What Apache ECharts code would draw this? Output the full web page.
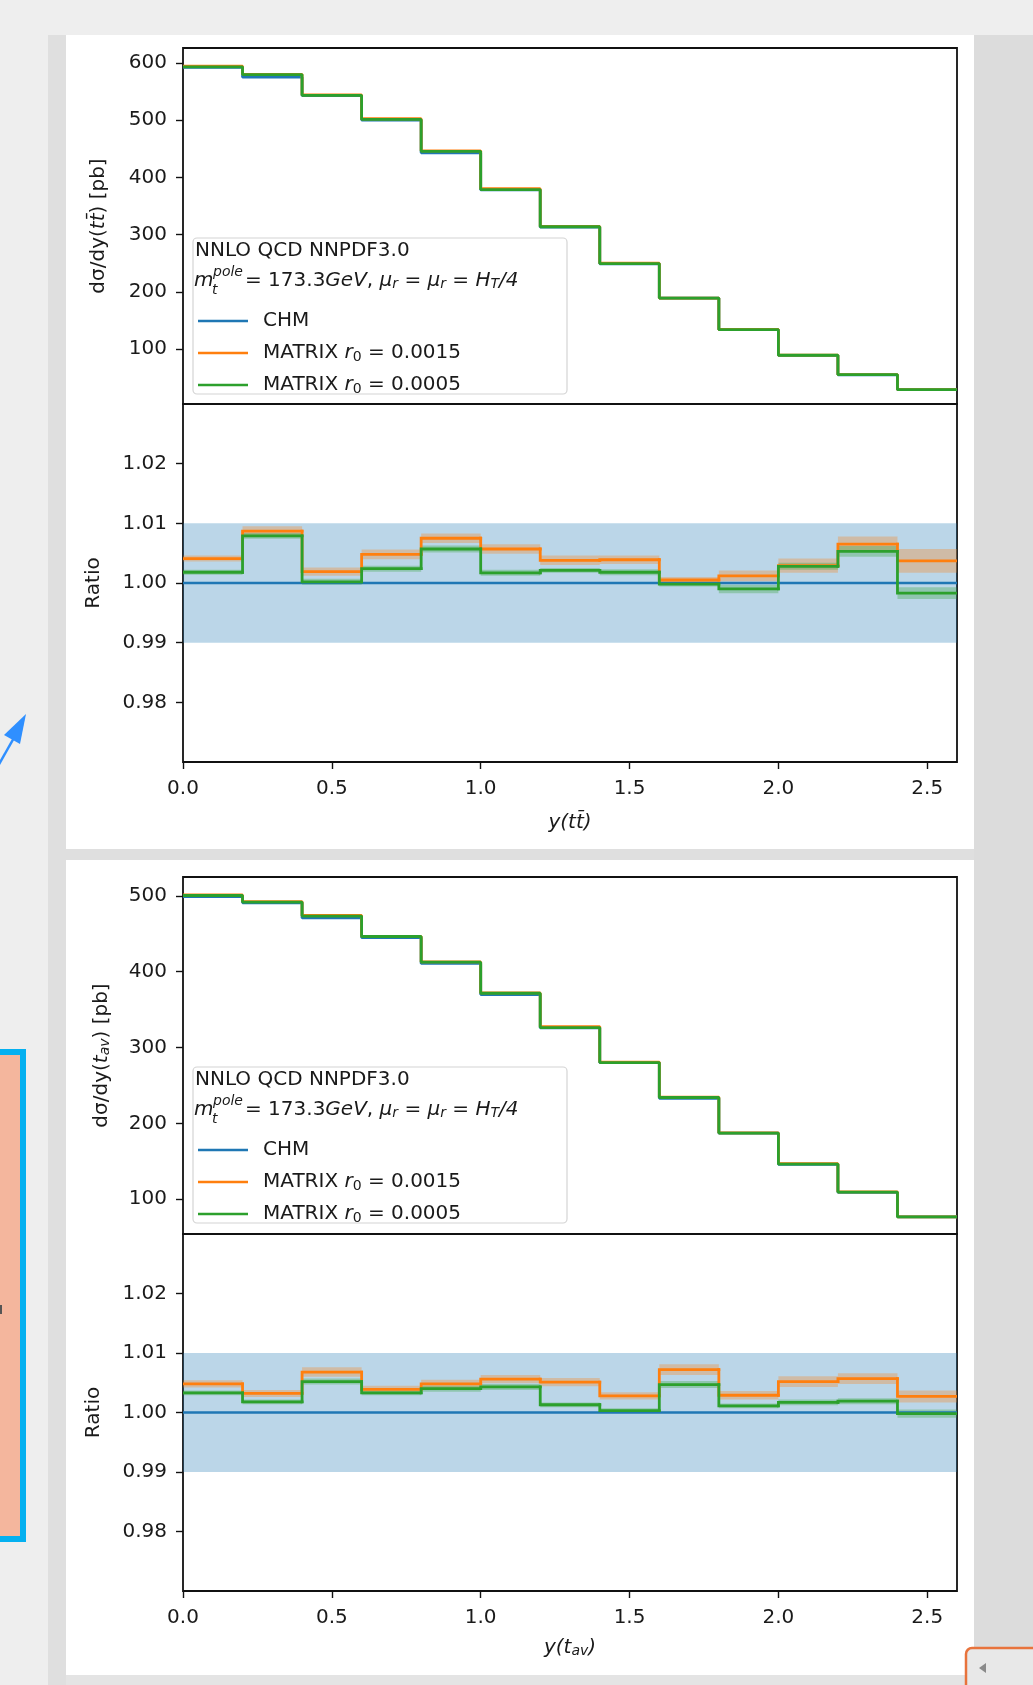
<!DOCTYPE html>
<html>
<head>
<meta charset="utf-8">
<title>CHM vs MATRIX rapidity distributions</title>
<script src="https://cdn.jsdelivr.net/npm/echarts@6/dist/echarts.min.js"></script>
<style>
  html, body { margin: 0; padding: 0; background: #eeeeee; }
  #chart { width: 1033px; height: 1685px; }
</style>
</head>
<body>
<div id="chart"></div>
<script>
// bin edges in rapidity (13 bins of 0.2)
var edges = [0, 0.2, 0.4, 0.6, 0.8, 1.0, 1.2, 1.4, 1.6, 1.8, 2.0, 2.2, 2.4, 2.6];

// y(t tbar) panel
var chmTT = [592, 575, 543, 500, 443, 378, 313, 249, 189, 134, 89, 55, 29];
var m15TT = [594.4, 580.0, 544.0, 502.4, 446.3, 380.2, 314.2, 250.0, 189.1, 134.2, 89.3, 55.4, 29.1];
var m05TT = [593.1, 579.5, 543.1, 501.2, 445.5, 378.6, 313.7, 249.4, 189.0, 133.9, 89.2, 55.3, 29.0];
var r15TT = [1.0041, 1.0087, 1.0019, 1.0048, 1.0075, 1.0057, 1.0038, 1.0039, 1.0005, 1.0012, 1.0029, 1.0065, 1.0037];
var e15TT = [0.0005, 0.0008, 0.0007, 0.0008, 0.0008, 0.0008, 0.0008, 0.0007, 0.0005, 0.0009, 0.0012, 0.0013, 0.0020];
var r05TT = [1.0018, 1.0079, 1.0002, 1.0024, 1.0057, 1.0017, 1.0021, 1.0018, 0.9998, 0.9990, 1.0028, 1.0053, 0.9983];
var e05TT = [0.0004, 0.0005, 0.0005, 0.0005, 0.0006, 0.0005, 0.0004, 0.0005, 0.0004, 0.0007, 0.0006, 0.0009, 0.0010];

// y(t_av) panel
var chmAV = [499, 491, 471, 445, 411, 370, 326, 280, 233, 187, 146, 109, 76.5];
var m15AV = [501.4, 492.6, 474.2, 446.7, 413.0, 372.1, 327.7, 280.8, 234.7, 187.5, 146.8, 109.6, 76.7];
var m05AV = [500.6, 491.9, 473.4, 446.5, 412.6, 371.6, 326.4, 280.1, 234.1, 187.2, 146.2, 109.2, 76.5];
var r15AV = [1.0048, 1.0032, 1.0068, 1.0039, 1.0048, 1.0056, 1.0051, 1.0028, 1.0072, 1.0029, 1.0052, 1.0057, 1.0027];
var e15AV = [0.0006, 0.0006, 0.0008, 0.0006, 0.0007, 0.0007, 0.0007, 0.0006, 0.0009, 0.0007, 0.0009, 0.0009, 0.0010];
var r05AV = [1.0033, 1.0018, 1.0052, 1.0033, 1.0040, 1.0043, 1.0013, 1.0003, 1.0047, 1.0011, 1.0017, 1.0019, 0.9998];
var e05AV = [0.0004, 0.0004, 0.0005, 0.0004, 0.0005, 0.0005, 0.0004, 0.0004, 0.0006, 0.0004, 0.0005, 0.0005, 0.0007];

// CHM reference in ratio panels and its +-1% band
var chmRatio = [1, 1, 1, 1, 1, 1, 1, 1, 1, 1, 1, 1, 1];
var chmBand = [0.99, 1.01];

// ticks
var xTicks = [0, 0.5, 1.0, 1.5, 2.0, 2.5];
var yTicksTT = [100, 200, 300, 400, 500, 600];
var yTicksAV = [100, 200, 300, 400, 500];
var ratioTicks = [0.98, 0.99, 1.00, 1.01, 1.02];

var names = ['CHM', 'MATRIX 0.0015', 'MATRIX 0.0005'];
var legendText = {
  'CHM': '{g| }CHM',
  'MATRIX 0.0015': '{g| }MATRIX {i|r}{d|0} = 0.0015',
  'MATRIX 0.0005': '{g| }MATRIX {i|r}{d|0} = 0.0005'
};

var BLUE = '#1f77b4', ORANGE = '#ff7f0e', GREEN = '#2ca02c';
var FONT = 'DejaVu Sans';
var FS = 20;
var TXT = '#1a1a1a';

var chart = echarts.init(document.getElementById('chart'), null, { renderer: 'canvas' });

var richBase = {
  t: { fontFamily: FONT, fontSize: FS, color: TXT },
  i: { fontFamily: FONT, fontSize: FS, fontStyle: 'italic', color: TXT },
  s: { fontFamily: FONT, fontSize: 14, fontStyle: 'italic', color: TXT, verticalAlign: 'bottom', lineHeight: 14 },
  d: { fontFamily: FONT, fontSize: 14, color: TXT, verticalAlign: 'bottom', lineHeight: 14 },
  g: { width: 10 }
};

function stepLine(ax, vals, name, color, width, z) {
  return {
    type: 'line', name: name, xAxisIndex: ax, yAxisIndex: ax,
    step: 'end', showSymbol: false, symbol: 'none', silent: true, z: z,
    data: edges.map(function (x, i) { return [x, vals[Math.min(i, vals.length - 1)]]; }),
    lineStyle: { color: color, width: width },
    itemStyle: { color: color }
  };
}

// histogram drawn bin by bin so that small steps are kept
function stepBins(ax, vals, name, color, width, z) {
  return {
    type: 'custom', name: name, xAxisIndex: ax, yAxisIndex: ax, silent: true, z: z, clip: true,
    encode: { x: [0, 1], y: [2, 3] },
    itemStyle: { color: color },
    data: vals.map(function (v, i) { return [edges[i], edges[i + 1], v, i > 0 ? vals[i - 1] : v]; }),
    renderItem: function (params, api) {
      var a = api.coord([api.value(0), api.value(3)]);
      var b = api.coord([api.value(0), api.value(2)]);
      var c = api.coord([api.value(1), api.value(2)]);
      return { type: 'polyline', shape: { points: [a, b, c] },
               style: { stroke: color, lineWidth: width, fill: null, lineCap: 'square', lineJoin: 'miter' } };
    }
  };
}

function bandSeries(ax, center, err, color) {
  return {
    type: 'custom', xAxisIndex: ax, yAxisIndex: ax, silent: true, z: 1,
    encode: { x: [0, 1], y: [2, 3] },
    data: center.map(function (v, i) { return [edges[i], edges[i + 1], v - err[i], v + err[i]]; }),
    renderItem: function (params, api) {
      var a = api.coord([api.value(0), api.value(3)]);
      var b = api.coord([api.value(1), api.value(2)]);
      return { type: 'rect', shape: { x: a[0], y: a[1], width: b[0] - a[0], height: b[1] - a[1] },
               style: { fill: color } };
    }
  };
}

function chmBandSeries(ax) {
  return {
    type: 'custom', xAxisIndex: ax, yAxisIndex: ax, silent: true, z: 1,
    encode: { x: [0, 1], y: [2, 3] },
    data: [[edges[0], edges[edges.length - 1], chmBand[0], chmBand[1]]],
    renderItem: function (params, api) {
      var a = api.coord([api.value(0), api.value(3)]);
      var b = api.coord([api.value(1), api.value(2)]);
      return { type: 'rect', shape: { x: a[0], y: a[1], width: b[0] - a[0], height: b[1] - a[1] },
               style: { fill: 'rgba(31,119,180,0.3)' } };
    }
  };
}

function xAxisFor(idx, showLabels, name, gap) {
  return {
    type: 'value', gridIndex: idx, min: 0, max: 2.6,
    axisLine: { show: false },
    splitLine: { show: false },
    axisTick: { show: showLabels, length: 7, customValues: xTicks, lineStyle: { color: '#111', width: 1.4 } },
    axisLabel: { show: showLabels, customValues: xTicks, margin: 17, fontFamily: FONT, fontSize: FS, color: TXT,
                 formatter: function (v) { return v.toFixed(1); } },
    name: name || '', nameLocation: 'middle', nameGap: gap || 47,
    nameTextStyle: { rich: richBase, fontFamily: FONT, fontSize: FS, color: TXT }
  };
}

function yAxisFor(idx, min, max, ticks, digits, name, gap) {
  return {
    type: 'value', gridIndex: idx, min: min, max: max,
    axisLine: { show: false },
    splitLine: { show: false },
    axisTick: { length: 7, customValues: ticks, lineStyle: { color: '#111', width: 1.4 } },
    axisLabel: { customValues: ticks, margin: 16, fontFamily: FONT, fontSize: FS, color: TXT,
                 formatter: function (v) { return v.toFixed(digits); } },
    name: name, nameLocation: 'middle', nameGap: gap,
    nameTextStyle: { rich: richBase, fontFamily: FONT, fontSize: FS, color: TXT }
  };
}

function legendFor(top) {
  return {
    data: names, orient: 'vertical', left: 193, top: top,
    icon: 'rect', itemWidth: 50, itemHeight: 2.6, itemGap: 10,
    selectedMode: false, z: 5,
    formatter: function (n) { return legendText[n]; },
    textStyle: { fontFamily: FONT, fontSize: FS, color: TXT, lineHeight: 22,
                 rich: { i: richBase.i, d: richBase.d, g: richBase.g } }
  };
}

// legend box with its two title lines
function legendBox(top) {
  return [
    { type: 'rect', z: 3, shape: { x: 193, y: top, width: 374, height: 156, r: 4 },
      style: { fill: 'rgba(255,255,255,0.8)', stroke: '#d4d4d4', lineWidth: 1.2 } },
    { type: 'text', z: 5, style: { x: 195, y: top + 13, text: 'NNLO QCD NNPDF3.0', verticalAlign: 'middle',
      fontFamily: FONT, fontSize: FS, fill: TXT } },
    { type: 'text', z: 5, style: { x: 194, y: top + 43, text: 'm', verticalAlign: 'middle',
      fontFamily: FONT, fontSize: FS, fontStyle: 'italic', fill: TXT } },
    { type: 'text', z: 5, style: { x: 213, y: top + 34, text: 'pole', verticalAlign: 'middle',
      fontFamily: FONT, fontSize: 14, fontStyle: 'italic', fill: TXT } },
    { type: 'text', z: 5, style: { x: 212, y: top + 52, text: 't', verticalAlign: 'middle',
      fontFamily: FONT, fontSize: 14, fontStyle: 'italic', fill: TXT } },
    { type: 'text', z: 5, style: { x: 245, y: top + 43, verticalAlign: 'middle',
      text: '= 173.3{i|GeV}, {i|\u03bc}{s|r} = {i|\u03bc}{s|r} = {i|H}{s|T}{i|/4}',
      fontFamily: FONT, fontSize: FS, fill: TXT, rich: richBase } }
  ];
}

var chrome = [
  // page frame around the two figure cards
  { type: 'rect', z: -10, shape: { x: 48, y: 35, width: 18, height: 1650 }, style: { fill: '#dfdfdf' } },
  { type: 'rect', z: -10, shape: { x: 974, y: 35, width: 59, height: 1650 }, style: { fill: '#dcdcdc' } },
  { type: 'rect', z: -10, shape: { x: 66, y: 35, width: 908, height: 814 }, style: { fill: '#ffffff' } },
  { type: 'rect', z: -10, shape: { x: 66, y: 849, width: 908, height: 11 }, style: { fill: '#dfdfdf' } },
  { type: 'rect', z: -10, shape: { x: 66, y: 860, width: 908, height: 815 }, style: { fill: '#ffffff' } },
  { type: 'rect', z: -10, shape: { x: 66, y: 1675, width: 908, height: 10 }, style: { fill: '#e4e4e4' } },
  // annotation box on the left edge
  { type: 'rect', z: -9, shape: { x: -10, y: 1052, width: 33, height: 487 },
    style: { fill: '#f4b69d', stroke: '#04b0f0', lineWidth: 6 } },
  { type: 'rect', z: -8, shape: { x: 0, y: 1305, width: 2, height: 9 }, style: { fill: '#555' } },
  // arrow
  { type: 'line', z: -9, shape: { x1: -2, y1: 766, x2: 15, y2: 736 },
    style: { stroke: '#2f8fff', lineWidth: 2.5 } },
  { type: 'polygon', z: -9, shape: { points: [[26, 714], [4, 735], [20, 744]] }, style: { fill: '#2f8fff' } },
  // scroll widget in the bottom-right corner
  { type: 'rect', z: -9, shape: { x: 966, y: 1648, width: 80, height: 50, r: 6 },
    style: { fill: '#e8e8e8', stroke: '#e8733c', lineWidth: 2.5 } },
  { type: 'polygon', z: -8, shape: { points: [[979, 1668], [986, 1663], [986, 1673]] }, style: { fill: '#8a8a8a' } }
];

var option = {
  backgroundColor: '#eeeeee',
  animation: false,
  grid: [
    { left: 183, width: 774, top: 48, height: 356 },
    { left: 183, width: 774, top: 404, height: 358 },
    { left: 183, width: 774, top: 877, height: 357 },
    { left: 183, width: 774, top: 1234, height: 357 }
  ].map(function (g) {
    g.show = true; g.borderColor = '#111'; g.borderWidth = 1.8; g.backgroundColor = 'transparent';
    g.outerBoundsMode = 'none';
    return g;
  }),
  xAxis: [
    xAxisFor(0, false),
    xAxisFor(1, true, '{i|y(tt\u0304)}', 51),
    xAxisFor(2, false),
    xAxisFor(3, true, '{i|y(t}{s|av}{i|)}', 47)
  ],
  yAxis: [
    yAxisFor(0, 4, 626, yTicksTT, 0, '{t|d\u03c3/dy(}{i|tt\u0304}{t|) [pb]}', 74),
    yAxisFor(1, 0.97, 1.03, ratioTicks, 2, '{t|Ratio}', 79),
    yAxisFor(2, 54, 525, yTicksAV, 0, '{t|d\u03c3/dy(}{i|t}{s|av}{t|) [pb]}', 71),
    yAxisFor(3, 0.97, 1.03, ratioTicks, 2, '{t|Ratio}', 79)
  ],
  legend: [legendFor(305), legendFor(1134)],
  graphic: chrome.concat(legendBox(238), legendBox(1067)),
  series: [
    // y(t tbar)
    stepLine(0, chmTT, 'CHM', BLUE, 2.8, 2),
    stepLine(0, m15TT, 'MATRIX 0.0015', ORANGE, 2.8, 3),
    stepLine(0, m05TT, 'MATRIX 0.0005', GREEN, 2.8, 4),
    chmBandSeries(1),
    bandSeries(1, r15TT, e15TT, 'rgba(255,127,14,0.3)'),
    bandSeries(1, r05TT, e05TT, 'rgba(44,160,44,0.3)'),
    stepLine(1, chmRatio, 'CHM', BLUE, 2.4, 2),
    stepBins(1, r15TT, 'MATRIX 0.0015', ORANGE, 2.8, 3),
    stepBins(1, r05TT, 'MATRIX 0.0005', GREEN, 2.8, 4),
    // y(t_av)
    stepLine(2, chmAV, 'CHM', BLUE, 2.8, 2),
    stepLine(2, m15AV, 'MATRIX 0.0015', ORANGE, 2.8, 3),
    stepLine(2, m05AV, 'MATRIX 0.0005', GREEN, 2.8, 4),
    chmBandSeries(3),
    bandSeries(3, r15AV, e15AV, 'rgba(255,127,14,0.3)'),
    bandSeries(3, r05AV, e05AV, 'rgba(44,160,44,0.3)'),
    stepLine(3, chmRatio, 'CHM', BLUE, 2.4, 2),
    stepBins(3, r15AV, 'MATRIX 0.0015', ORANGE, 2.8, 3),
    stepBins(3, r05AV, 'MATRIX 0.0005', GREEN, 2.8, 4)
  ]
};

chart.setOption(option);
</script>
</body>
</html>
